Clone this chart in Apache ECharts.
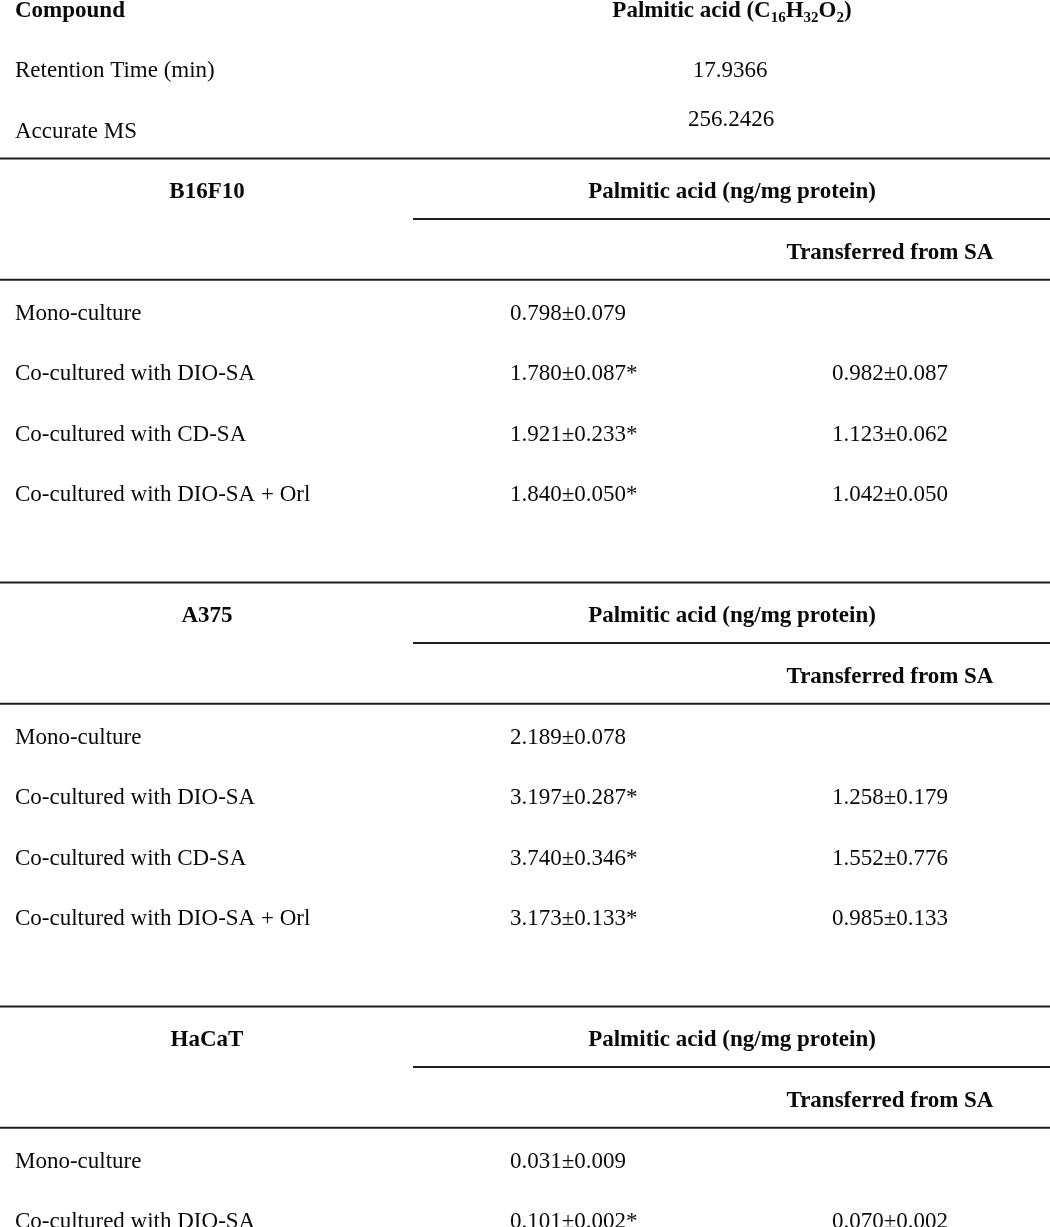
<!DOCTYPE html>
<html>
<head>
<meta charset="utf-8">
<title>Palmitic acid</title>
<script src="https://cdn.jsdelivr.net/npm/echarts@6/dist/echarts.min.js"></script>
<style>
  html, body { margin: 0; padding: 0; background: #fff; }
  #main { width: 1050px; height: 1227px; }
</style>
</head>
<body>
<div id="main"></div>
<script>
// compound info
var compoundRows = ['Retention Time (min)', 'Accurate MS'];
var compoundValues = ['17.9366', '256.2426'];

var cellLines = ['B16F10', 'A375', 'HaCaT'];
var conditions = ['Mono-culture', 'Co-cultured with DIO-SA', 'Co-cultured with CD-SA', 'Co-cultured with DIO-SA + Orl'];

// palmitic acid (ng/mg protein), mean / sd, * = significant
var b16Mean = [0.798, 1.780, 1.921, 1.840];
var b16Sd = [0.079, 0.087, 0.233, 0.050];
var b16Sig = [false, true, true, true];
var b16TransMean = [null, 0.982, 1.123, 1.042];
var b16TransSd = [null, 0.087, 0.062, 0.050];

var a375Mean = [2.189, 3.197, 3.740, 3.173];
var a375Sd = [0.078, 0.287, 0.346, 0.133];
var a375Sig = [false, true, true, true];
var a375TransMean = [null, 1.258, 1.552, 0.985];
var a375TransSd = [null, 0.179, 0.776, 0.133];

// only the first two HaCaT rows are visible
var hacatMean = [0.031, 0.101];
var hacatSd = [0.009, 0.002];
var hacatSig = [false, true];
var hacatTransMean = [null, 0.070];
var hacatTransSd = [null, 0.002];

var blocks = [
  { mean: b16Mean, sd: b16Sd, sig: b16Sig, tMean: b16TransMean, tSd: b16TransSd },
  { mean: a375Mean, sd: a375Sd, sig: a375Sig, tMean: a375TransMean, tSd: a375TransSd },
  { mean: hacatMean, sd: hacatSd, sig: hacatSig, tMean: hacatTransMean, tSd: hacatTransSd }
];

// layout (x in px units, y in row units)
var colLabel = 15, colHead = 207, colMid = 732, colTotal = 510, colTrans = 890, subLineStart = 413, W = 1050;
var pitch = 60.57, y0 = 8.3, textShift = 2.5;

function fmt(m, s) { return m.toFixed(3) + '±' + s.toFixed(3); }

var cells = [];
var rules = [];
function cell(x, r, text, bold, align) { cells.push({ x: x, r: r, text: text, bold: bold, align: align }); }

cell(colLabel, 0, 'Compound', true, 'left');
cell(colMid, 0, '{b|Palmitic acid (C}{s|16}{b|H}{s|32}{b|O}{s|2}{b|)}', true, 'center');
cell(colLabel, 1, compoundRows[0], false, 'left');
cell(colMid - 2, 1, compoundValues[0], false, 'center');
cell(colLabel, 2, compoundRows[1], false, 'left');
cell(colMid - 1, 1.81, compoundValues[1], false, 'center');
rules.push([0, W, 2.48]);

blocks.forEach(function (b, bi) {
  var base = 3 + bi * 7;
  cell(colHead, base, cellLines[bi], true, 'center');
  cell(colMid, base, 'Palmitic acid (ng/mg protein)', true, 'center');
  rules.push([subLineStart, W, base + 0.48]);
  cell(colTrans, base + 1, 'Transferred from SA', true, 'center');
  rules.push([0, W, base + 1.48]);
  b.mean.forEach(function (m, i) {
    var r = base + 2 + i;
    cell(colLabel, r, conditions[i], false, 'left');
    cell(colTotal, r, fmt(m, b.sd[i]) + (b.sig[i] ? '*' : ''), false, 'left');
    if (b.tMean[i] != null) cell(colTrans, r, fmt(b.tMean[i], b.tSd[i]), false, 'center');
  });
  if (bi < blocks.length - 1) rules.push([0, W, base + 6.48]);
});

var chart = echarts.init(document.getElementById('main'));
var yMin = -y0 / pitch;
var yMax = yMin + 1227 / pitch;

chart.setOption({
  animation: false,
  grid: { left: 0, right: 0, top: 0, bottom: 0 },
  xAxis: { type: 'value', min: 0, max: W, show: false },
  yAxis: { type: 'value', min: yMin, max: yMax, inverse: true, show: false },
  series: [
    {
      type: 'custom',
      data: rules.map(function (l) { return [l[0], l[1], l[2]]; }),
      encode: { x: [0, 1], y: 2 },
      renderItem: function (params, api) {
        var p1 = api.coord([api.value(0), api.value(2)]);
        var p2 = api.coord([api.value(1), api.value(2)]);
        return {
          type: 'line',
          shape: { x1: p1[0], y1: p1[1], x2: p2[0], y2: p2[1] },
          style: { stroke: '#1e1e1e', lineWidth: 2 }
        };
      }
    },
    {
      type: 'custom',
      data: cells.map(function (c, i) { return [c.x, c.r, i]; }),
      encode: { x: 0, y: 1 },
      renderItem: function (params, api) {
        var c = cells[api.value(2)];
        var p = api.coord([api.value(0), api.value(1)]);
        return {
          type: 'text',
          x: p[0],
          y: p[1] + textShift,
          style: {
            text: c.text,
            fill: '#0a0a0a',
            fontFamily: '"Liberation Serif", "Times New Roman", serif',
            fontSize: 23,
            fontWeight: c.bold ? 'bold' : 'normal',
            align: c.align,
            verticalAlign: 'middle',
            rich: {
              b: { fontFamily: '"Liberation Serif", serif', fontSize: 23, fontWeight: 'bold', lineHeight: 30, fill: '#0a0a0a' },
              s: { fontFamily: '"Liberation Serif", serif', fontSize: 15, fontWeight: 'bold', lineHeight: 30, verticalAlign: 'bottom', fill: '#0a0a0a' }
            }
          }
        };
      }
    }
  ]
});
</script>
</body>
</html>
